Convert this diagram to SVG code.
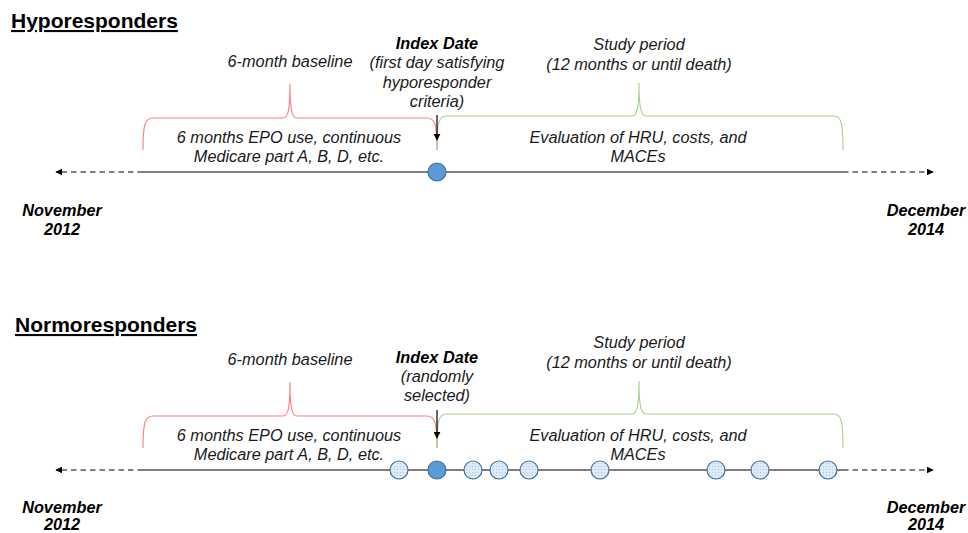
<svg xmlns="http://www.w3.org/2000/svg" width="968" height="533" viewBox="0 0 968 533">
<style>
text{font-family:"Liberation Sans",Arial,sans-serif;font-size:16.3px;fill:#1a1a1a}
.it{font-style:italic;text-anchor:middle}
.bi{font-style:italic;font-weight:bold;text-anchor:middle;fill:#000}
.title{font-weight:bold;font-size:21px;fill:#000;text-decoration:underline}
.axis{stroke:#000;stroke-width:1.2;fill:none}
.dash{stroke:#000;stroke-width:1.2;stroke-dasharray:5.5 4;fill:none}
.red{stroke:#FF7C80;stroke-width:1.1;fill:none}
.green{stroke:#A9D18E;stroke-width:1.1;fill:none}
.idx{fill:#5B9BD5;stroke:#41719C;stroke-width:1.2}
.evt{fill:url(#dots);stroke:#41719C;stroke-width:1.2}
.ptr{stroke:#000;stroke-width:1.2;fill:none}
</style>
<defs>
<marker id="ah" viewBox="0 0 10 10" refX="9" refY="5" markerWidth="7" markerHeight="7" markerUnits="userSpaceOnUse" orient="auto">
<path d="M0,0 L10,5 L0,10 z" fill="#000"/>
</marker>
<marker id="ah2" viewBox="0 0 10 10" refX="9" refY="5" markerWidth="7" markerHeight="7" markerUnits="userSpaceOnUse" orient="auto">
<path d="M0,0 L10,5 L0,10 z" fill="#000"/>
</marker>
<pattern id="dots" width="3" height="3" patternUnits="userSpaceOnUse">
<rect width="3" height="3" fill="#DEEBF7"/>
<rect x="1" y="1" width="1" height="1" fill="#A9C8E8"/>
</pattern>
</defs>

<g id="hyporesponders">
<text class="title" x="11" y="28">Hyporesponders</text>
<g id="connectors-top">
<line class="dash" x1="143" y1="172" x2="56" y2="172" marker-end="url(#ah)"/>
<line class="axis" x1="143" y1="172" x2="843" y2="172"/>
<line class="dash" x1="843" y1="172" x2="933" y2="172" marker-end="url(#ah)"/>
<path class="red" d="M143,150 C143,124 145,118 153,118 L283,118 C288,118 290,110 290,84 C290,110 292,118 297,118 L427,118 C435,118 437,124 437,150"/>
<path class="green" d="M437,150 C437,122 439,116 446,116 L632,116 C637,116 639,108 639,83 C639,108 641,116 646,116 L834,116 C841,116 843,122 843,150"/>
<line class="ptr" x1="437" y1="115" x2="437" y2="140" marker-end="url(#ah2)"/>
</g>
<g id="top-baseline-label"><text class="it" x="290" y="67">6-month baseline</text></g>
<g id="top-index-label">
<text class="bi" x="437" y="49">Index Date</text>
<text class="it" x="437" y="68">(first day satisfying</text>
<text class="it" x="437" y="88">hyporesponder</text>
<text class="it" x="437" y="107">criteria)</text>
</g>
<g id="top-study-label">
<text class="it" x="639" y="50">Study period</text>
<text class="it" x="639" y="70">(12 months or until death)</text>
</g>
<g id="top-baseline-desc">
<text class="it" x="289" y="143">6 months EPO use, continuous</text>
<text class="it" x="289" y="162">Medicare part A, B, D, etc.</text>
</g>
<g id="top-study-desc">
<text class="it" x="638" y="143">Evaluation of HRU, costs, and</text>
<text class="it" x="638" y="162">MACEs</text>
</g>
<g id="top-start"><text class="bi" x="62" y="216">November</text><text class="bi" x="62" y="235">2012</text></g>
<g id="top-end"><text class="bi" x="926" y="216">December</text><text class="bi" x="926" y="235">2014</text></g>
<g id="top-index-point"><circle class="idx" cx="437" cy="172" r="9"/></g>
</g>

<g id="normoresponders">
<text class="title" x="15" y="332">Normoresponders</text>
<g id="connectors-bottom">
<line class="dash" x1="143" y1="470" x2="56" y2="470" marker-end="url(#ah)"/>
<line class="axis" x1="143" y1="470" x2="843" y2="470"/>
<line class="dash" x1="843" y1="470" x2="933" y2="470" marker-end="url(#ah)"/>
<path class="red" d="M143,448 C143,422 145,416 153,416 L283,416 C288,416 290,408 290,382 C290,408 292,416 297,416 L427,416 C435,416 437,422 437,448"/>
<path class="green" d="M437,448 C437,420 439,414 446,414 L632,414 C637,414 639,406 639,381 C639,406 641,414 646,414 L834,414 C841,414 843,420 843,448"/>
<line class="ptr" x1="437" y1="410" x2="437" y2="438" marker-end="url(#ah2)"/>
</g>
<g id="bottom-baseline-label"><text class="it" x="290" y="365">6-month baseline</text></g>
<g id="bottom-index-label">
<text class="bi" x="437" y="363">Index Date</text>
<text class="it" x="437" y="382">(randomly</text>
<text class="it" x="437" y="401">selected)</text>
</g>
<g id="bottom-study-label">
<text class="it" x="639" y="348">Study period</text>
<text class="it" x="639" y="368">(12 months or until death)</text>
</g>
<g id="bottom-baseline-desc">
<text class="it" x="289" y="441">6 months EPO use, continuous</text>
<text class="it" x="289" y="460">Medicare part A, B, D, etc.</text>
</g>
<g id="bottom-study-desc">
<text class="it" x="638" y="441">Evaluation of HRU, costs, and</text>
<text class="it" x="638" y="460">MACEs</text>
</g>
<g id="bottom-start"><text class="bi" x="62" y="513">November</text><text class="bi" x="62" y="530">2012</text></g>
<g id="bottom-end"><text class="bi" x="926" y="513">December</text><text class="bi" x="926" y="530">2014</text></g>
<g id="bottom-events">
<circle class="evt" cx="399" cy="470" r="9"/>
<circle class="evt" cx="473" cy="470" r="9"/>
<circle class="evt" cx="499" cy="470" r="9"/>
<circle class="evt" cx="529" cy="470" r="9"/>
<circle class="evt" cx="600" cy="470" r="9"/>
<circle class="evt" cx="716" cy="470" r="9"/>
<circle class="evt" cx="760" cy="470" r="9"/>
<circle class="evt" cx="828" cy="470" r="9"/>
</g>
<g id="bottom-index-point"><circle class="idx" cx="437" cy="470" r="9"/></g>
</g>
</svg>
